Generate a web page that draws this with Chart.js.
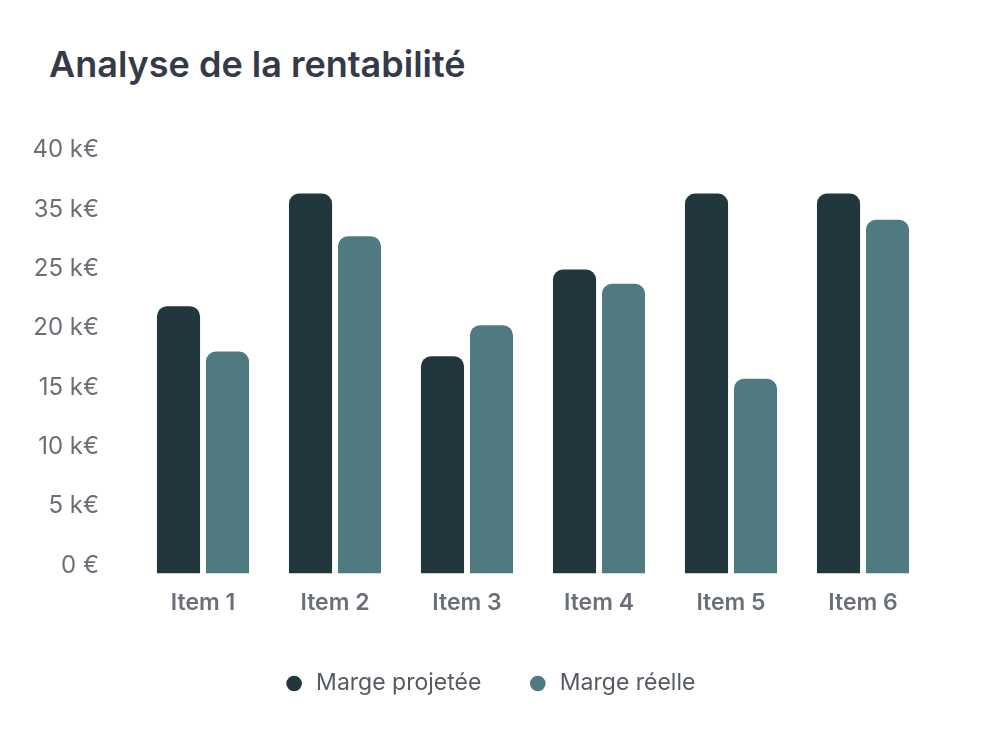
<!DOCTYPE html>
<html>
<head>
<meta charset="utf-8">
<script src="https://cdn.jsdelivr.net/npm/chart.js@4.4.0/dist/chart.umd.min.js"></script>
<style>
  html, body { margin: 0; padding: 0; background: #fff; }
  #wrap { position: relative; width: 984px; height: 732px; }
  #title {
    position: absolute; left: 49px; top: 42px; margin: 0;
    font-family: Inter, sans-serif; font-weight: 600; font-size: 36px;
    color: #343a48; letter-spacing: 0;
  }
  canvas { position: absolute; left: 0; top: 0; }
</style>
</head>
<body>
<div id="wrap">
  <h1 id="title">Analyse de la rentabilité</h1>
  <canvas id="profitChart" width="984" height="732"></canvas>
</div>
<script>
// Données du graphique
const categories = ['Item 1', 'Item 2', 'Item 3', 'Item 4', 'Item 5', 'Item 6'];
const margeProjetee = [22.5, 32.0, 18.3, 25.6, 32.0, 32.0];
const margeReelle = [18.7, 28.4, 20.9, 24.4, 16.4, 29.8];
const yTickLabels = ['0 €', '5 k€', '10 k€', '15 k€', '20 k€', '25 k€', '35 k€', '40 k€'];

const ctx = document.getElementById('profitChart');

// décale la légende un peu vers la droite (centrée sur la zone des barres)
const legendShift = {
    id: 'legendShift',
    afterLayout(chart) {
        if (!chart.legend) return;
        chart.legend.left += 10;
        chart.legend.right += 10;
    }
};

new Chart(ctx, {
    type: 'bar',
    data: {
        labels: categories,
        datasets: [{
            label: 'Marge projetée',
            data: margeProjetee,
            backgroundColor: '#21373d',
            borderRadius: 10,
            barPercentage: 0.88,
            categoryPercentage: 0.742
        }, {
            label: 'Marge réelle',
            data: margeReelle,
            backgroundColor: '#4f7a80',
            borderRadius: 10,
            barPercentage: 0.88,
            categoryPercentage: 0.742
        }]
    },
    plugins: [legendShift],
    options: {
        responsive: false,
        animation: false,
        layout: { padding: { top: 158, right: 55, bottom: 27, left: 30 } },
        plugins: {
            tooltip: { enabled: false },
            legend: {
                position: 'bottom',
                labels: {
                    usePointStyle: true,
                    pointStyle: 'circle',
                    boxWidth: 21,
                    boxHeight: 11,
                    padding: 46,
                    color: '#565b62',
                    font: { family: 'Inter', size: 23 }
                }
            }
        },
        scales: {
            x: {
                grid: { display: false, drawTicks: false },
                border: { display: false },
                afterFit: function (scale) { scale.height -= 7; },
                ticks: {
                    color: '#6b6f78',
                    padding: 16,
                    font: { family: 'Inter', size: 23, weight: '600' }
                }
            },
            y: {
                min: 0,
                max: 35,
                grid: { display: false, drawTicks: false },
                border: { display: false },
                // largeur fixe pour caler les libellés comme sur la maquette
                afterFit: function (scale) { scale.width = 107; },
                ticks: {
                    stepSize: 5,
                    padding: 38,
                    labelOffset: -8,
                    color: '#6b6f75',
                    font: { family: 'Inter', size: 24 },
                    callback: function (value, index) { return yTickLabels[index]; }
                }
            }
        }
    }
});
</script>
</body>
</html>
